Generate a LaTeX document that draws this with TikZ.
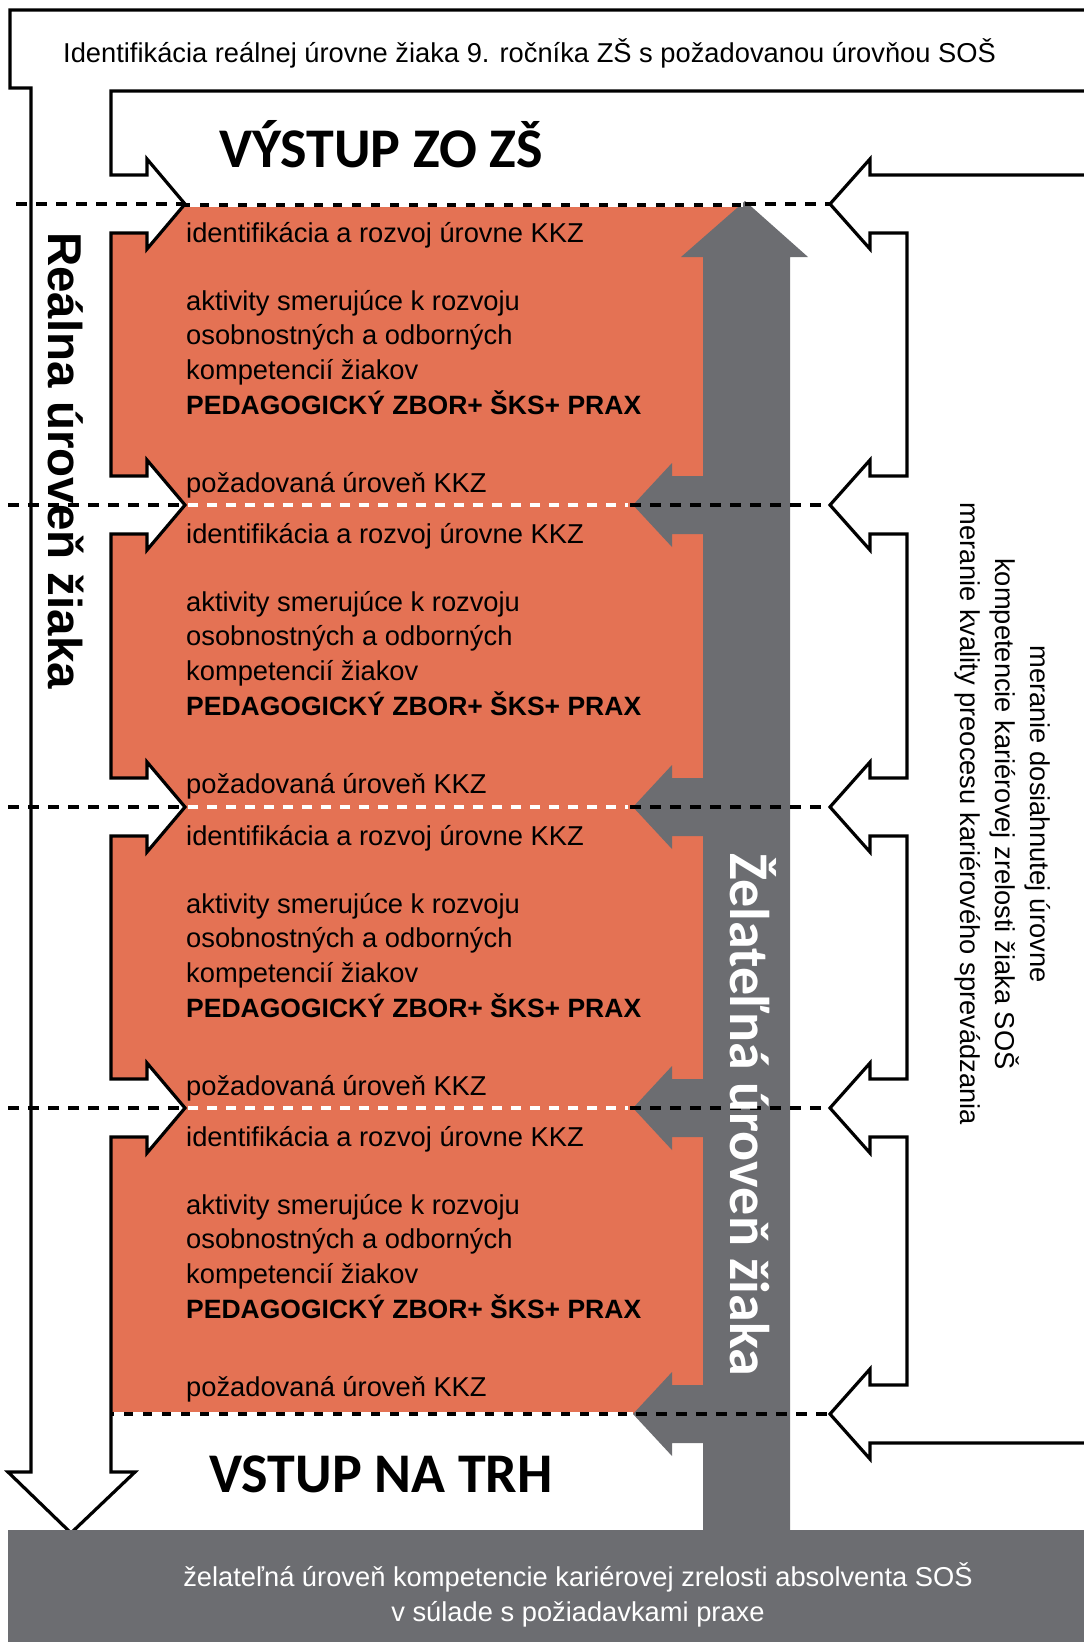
\documentclass[tikz,border=0pt]{standalone}
\usepackage{fontspec}
\setmainfont{Liberation Sans}
\newfontfamily\calibrifont{Carlito}
\definecolor{kkzorange}{RGB}{228,114,84}
\definecolor{kkzgray}{RGB}{108,109,113}

\begin{document}
\begin{tikzpicture}[
    x=1pt, y=-1pt,
    every node/.style={inner sep=0pt},
    outline/.style={draw, fill=white, line width=3.2pt, line join=miter},
    blackdash/.style={line width=3.2pt, dash pattern=on 11pt off 9pt},
    whitedash/.style={white, line width=3.2pt, dash pattern=on 10pt off 9pt},
    txt/.style={anchor=base west, font=\fontsize{27.3}{32}\selectfont},
    boldtxt/.style={anchor=base west, font=\fontsize{26.5}{32}\selectfont\bfseries},
    title/.style={anchor=base west, font=\fontsize{56}{60}\selectfont\calibrifont\bfseries},
    side/.style={anchor=base west, rotate=-90}
]
    \useasboundingbox (0,0) rectangle (1084,1642);
    \clip (0,0) rectangle (1084,1642);

    % Orange boxes
    \fill[kkzorange] (111,205) rectangle (745,1414);

    % Real level arrow
    \draw[outline] (10,10) -- (1100,10) -- (1100,91) -- (111,91)
        \foreach \l in {204,505,807,1108} {
            -- (111,\l-29) -- (147,\l-29) -- (147,\l-45) -- (185,\l)
            -- (147,\l+45) -- (147,\l+29) -- (111,\l+29)
        }
        -- (111,1472) -- (135,1472) -- (71,1533) -- (8,1472) -- (31,1472)
        -- (31,88) -- (10,88) -- cycle;

    % Desired level arrow
    \fill[kkzgray] (745,201) -- (808,257) -- (790,257) -- (790,1560) -- (703,1560)
        \foreach \l in {1414,1108,807,505} {
            -- (703,\l+29) -- (672,\l+29) -- (672,\l+42) -- (633,\l)
            -- (672,\l-42) -- (672,\l-29) -- (703,\l-29)
        }
        -- (703,257) -- (681,257) -- cycle;
    \fill[kkzgray] (8,1530) rectangle (1100,1650);

    % Levels
    \foreach \l in {505,807,1108} {
        \draw[whitedash] (188,\l) -- (628,\l);
        \draw[blackdash] (8,\l) -- (185,\l);
        \draw[blackdash] (630,\l) -- (830,\l);
    }
    \draw[blackdash] (16,204) -- (185,204);
    \draw[line width=3.2pt] (185,205) -- (743,205);
    \draw[whitedash] (190,205) -- (743,205);
    \draw[blackdash] (745,204) -- (830,204);
    \draw[line width=3.2pt] (111,1414) -- (633,1414);
    \draw[whitedash] (114,1414) -- (633,1414);
    \draw[blackdash] (636,1414) -- (830,1414);

    % Measurement arrows
    \draw[outline] (1100,175)
        \foreach \l in {204,505,807,1108,1414} {
            -- (907,\l-29) -- (870,\l-29) -- (870,\l-45) -- (830,\l)
            -- (870,\l+45) -- (870,\l+29) -- (907,\l+29)
        }
        -- (1100,1443) -- cycle;

    % Texts
    \node[txt] (banner) at (63,62) {Identifikácia reálnej úrovne žiaka 9. ročníka ZŠ s požadovanou úrovňou SOŠ};
    \node[title] (vystup) at (219,167) {VÝSTUP ZO ZŠ};
    \node[title] (vstup) at (209,1492) {VSTUP NA TRH};

    \foreach \l [count=\i] in {204,505,807,1108} {
        \node[txt] (ident\i) at (186,\l+38) {identifikácia a rozvoj úrovne KKZ};
        \node[txt] (akt\i) at (186,\l+106) {aktivity smerujúce k rozvoju};
        \node[txt] (osob\i) at (186,\l+140.5) {osobnostných a odborných};
        \node[txt] (komp\i) at (186,\l+175) {kompetencií žiakov};
        \node[boldtxt] (ped\i) at (186,\l+210) {PEDAGOGICKÝ ZBOR+ ŠKS+ PRAX};
        \node[txt] (poz\i) at (186,\l+288) {požadovaná úroveň KKZ};
    }

    \node[side, font=\fontsize{47.5}{50}\selectfont\bfseries] (realna) at (48,232) {Reálna úroveň žiaka};
    \node[side, text=white, font=\fontsize{56}{60}\selectfont\calibrifont\bfseries] (zelatelna) at (730,853) {Želateľná úroveň žiaka};

    \node[rotate=-90, align=center, font=\fontsize{27.3}{35}\selectfont] (meranie) at (1003,814)
        {meranie dosiahnutej úrovne\\kompetencie kariérovej zrelosti žiaka SOŠ\\meranie kvality preocesu kariérového sprevádzania};

    \node[anchor=base, text=white, font=\fontsize{27.3}{32}\selectfont] (ciel1) at (578,1586)
        {želateľná úroveň kompetencie kariérovej zrelosti absolventa SOŠ};
    \node[anchor=base, text=white, font=\fontsize{27.3}{32}\selectfont] (ciel2) at (578,1621)
        {v súlade s požiadavkami praxe};
\end{tikzpicture}
\end{document}
